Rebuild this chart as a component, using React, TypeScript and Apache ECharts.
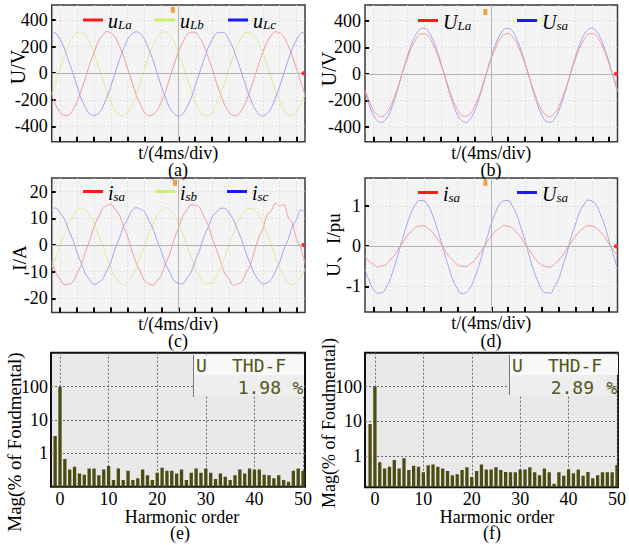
import React, { useEffect, useRef } from 'react';
import * as echarts from 'echarts';

const FONT = "'Liberation Serif', 'Times New Roman', 'Noto Serif CJK SC', 'Noto Sans CJK SC', serif";
const MONO = "'DejaVu Sans Mono', 'Liberation Mono', monospace";

// time samples (ms), 4 ms/div, 15 div
const T = [0,1,2,3,4,5,6,7,8,9,10,11,12,13,14,15,16,17,18,19,20,21,22,23,24,25,26,27,28,29,30,31,32,33,34,35,36,37,38,39,40,41,42,43,44,45,46,47,48,49,50,51,52,53,54,55,56,57,58,59,60];
const T_TICKS = [2,6,10,14,18,22,26,30,34,38,42,46,50,54,58];

// (a) load voltages (V)
const uLa = [
 -158,-242,-296,-318,-317,-276,-218,-128,-37,68,153,235,283,312,303,272,206,130,30,-64,
 -163,-236,-297,-322,-312,-281,-212,-134,-31,62,158,229,288,308,307,268,212,124,36,-70,
 -159,-241,-291,-319,-316,-277,-217,-129,-35,66,155,234,284,311,304,271,208,128,31,-66,
 -160];
const uLb = [
 -157,-70,36,124,212,268,307,309,287,229,159,62,-31,-134,-212,-282,-313,-322,-291,-242,
 -164,-64,30,130,206,273,303,312,283,235,153,68,-37,-128,-218,-276,-317,-319,-297,-236,
 -159,-68,35,125,211,269,306,308,286,231,157,64,-32,-133,-213,-281,-314,-323,-292,-240,
 -162];
const uLc = [
 308,300,250,186,93,3,-97,-192,-258,-309,-318,-307,-262,-186,-101,-2,98,180,255,295,
 311,296,254,181,99,-3,-102,-187,-263,-304,-323,-310,-257,-191,-96,2,94,185,250,300,
 306,301,251,185,95,1,-98,-190,-259,-307,-321,-305,-261,-188,-98,-1,97,182,253,298,
 309];

// (b) ULa vs Usa (V)
const ULaB = [
 -121,-202,-275,-309,-324,-297,-251,-170,-83,22,109,197,254,297,301,287,232,166,73,-16,
 -115,-208,-269,-315,-318,-303,-245,-176,-77,16,115,191,260,293,306,281,238,160,79,-22,
 -120,-203,-274,-310,-323,-298,-250,-171,-82,21,110,196,255,298,302,286,233,165,74,-17,
 -119];
const UsaB = [
 -134,-233,-308,-354,-364,-339,-281,-196,-91,22,127,220,291,334,344,321,266,185,86,-23,
 -135,-232,-309,-353,-365,-338,-282,-195,-92,23,126,221,290,335,343,322,265,186,85,-22,
 -134,-234,-307,-355,-363,-340,-280,-197,-90,21,128,219,292,333,345,320,267,184,87,-24,
 -133];

// (c) source currents (A)
const isaC = [
 -6.1,-10.6,-12.8,-14.9,-14.7,-13.9,-10.6,-7.5,-2.5,1.6,6.8,10.1,13.6,14.7,15.3,13.5,11.4,7.0,3.1,-2.2,
 -6.7,-10.0,-13.4,-14.5,-15.1,-13.3,-11.2,-6.9,-3.1,2.2,6.2,10.7,13.0,15.1,14.9,14.1,10.8,7.6,2.5,-1.6,
 -6.2,-10.8,-12.7,-15.2,-14.6,-13.9,-10.5,-7.6,-2.4,2.6,6.0,11.2,12.8,15.8,14.6,15.2,10.4,8.1,2.1,-1.2,
 -6.9];
const isbC = [
 -8.3,-4.8,0.3,4.0,8.5,10.9,13.4,13.7,13.4,10.9,8.5,4.0,0.3,-4.8,-8.3,-12.2,-13.8,-14.9,-13.7,-12.1,
 -8.9,-4.2,-0.3,4.6,7.9,11.5,13.0,14.1,13.0,11.5,7.9,4.6,-0.3,-4.2,-8.9,-11.6,-14.2,-14.5,-14.3,-11.7,
 -8.4,-4.7,0.2,4.1,8.4,11.0,13.3,13.8,13.3,11.1,8.3,4.2,0.1,-4.6,-8.5,-12.0,-14.1,-14.8,-13.9,-12.0,
 -8.7];
const iscC = [
 13.5,13.9,11.9,9.8,5.6,2.0,-2.9,-6.8,-10.9,-13.0,-14.8,-14.1,-13.0,-9.7,-6.5,-1.5,2.3,7.0,9.8,12.9,
 14.0,13.4,12.5,9.2,6.2,1.4,-2.5,-7.3,-10.3,-13.5,-14.3,-14.6,-12.5,-10.3,-5.9,-2.1,2.9,6.4,10.4,12.3,
 13.7,13.8,12.0,9.7,5.8,1.9,-2.8,-6.9,-10.8,-13.1,-14.7,-14.2,-12.9,-9.8,-6.4,-1.6,2.0,6.9,9.6,13.1,
 12.6];

// (d) per-unit current and voltage
const isaD = [
 -0.24,-0.38,-0.45,-0.52,-0.49,-0.46,-0.34,-0.23,-0.05,0.09,0.26,0.36,0.47,0.50,0.51,0.44,0.36,0.21,0.07,-0.11,
 -0.26,-0.36,-0.47,-0.50,-0.51,-0.44,-0.36,-0.21,-0.07,0.11,0.24,0.38,0.45,0.52,0.49,0.46,0.34,0.23,0.05,-0.09,
 -0.25,-0.38,-0.46,-0.51,-0.52,-0.45,-0.35,-0.22,-0.06,0.10,0.25,0.37,0.46,0.51,0.50,0.45,0.35,0.22,0.06,-0.10,
 -0.24];
const UsaD = [
 -0.57,-0.86,-1.07,-1.17,-1.16,-1.03,-0.81,-0.50,-0.15,0.22,0.55,0.84,1.04,1.14,1.13,1.01,0.79,0.49,0.14,-0.22,
 -0.56,-0.87,-1.06,-1.18,-1.15,-1.04,-0.80,-0.51,-0.14,0.21,0.56,0.83,1.05,1.13,1.14,1.00,0.80,0.48,0.15,-0.23,
 -0.58,-0.85,-1.08,-1.16,-1.17,-1.02,-0.82,-0.49,-0.16,0.23,0.54,0.85,1.03,1.15,1.12,1.02,0.78,0.50,0.13,-0.21,
 -0.57];

// (e),(f) harmonic spectra, % of fundamental
const HARM = [-1,0,1,2,3,4,5,6,7,8,9,10,11,12,13,14,15,16,17,18,19,20,21,22,23,24,25,26,27,28,29,30,31,32,33,34,35,36,37,38,39,40,41,42,43,44,45,46,47,48,49,50];
const SPEC_E = [3.3,100,
 0.68,0.33,0.40,0.25,0.23,0.35,0.35,0.22,0.33,0.42,
 0.16,0.35,0.16,0.30,0.16,0.18,0.33,0.22,0.16,0.26,
 0.37,0.30,0.30,0.25,0.33,0.16,0.26,0.35,0.26,0.35,
 0.26,0.17,0.25,0.20,0.16,0.22,0.33,0.25,0.35,0.32,
 0.33,0.23,0.22,0.18,0.22,0.16,0.14,0.30,0.35,0.30];
const SPEC_F = [8.4,100,
 0.66,0.44,0.49,0.77,0.44,0.86,0.40,0.53,0.49,0.34,
 0.54,0.57,0.49,0.44,0.37,0.28,0.30,0.40,0.48,0.25,
 0.37,0.57,0.41,0.41,0.48,0.40,0.35,0.34,0.34,0.41,
 0.41,0.48,0.34,0.28,0.44,0.34,0.16,0.34,0.27,0.41,
 0.32,0.41,0.27,0.35,0.23,0.28,0.34,0.34,0.34,0.55];
const HARM_LABELS = [0,10,20,30,40,50];
const LOG_LABELS = [1,10,100];
const THD_E = '1.98';
const THD_F = '2.89';

const LEG: Record<string, string> = {
  a_uLa: '{m|u}{s|La}', a_uLb: '{m|u}{s|Lb}', a_uLc: '{m|u}{s|Lc}',
  b_ULa: '{m|U}{s|La}', b_Usa: '{m|U}{s|sa}',
  c_isa: '{m|i}{s|sa}', c_isb: '{m|i}{s|sb}', c_isc: '{m|i}{s|sc}',
  d_isa: '{m|i}{s|sa}', d_Usa: '{m|U}{s|sa}',
};

const RED = '#ff1a1a', GREEN = '#c8f26c', BLUE = '#1a1aff';
const RED_L = '#f29a9a', GREEN_L = '#d8ee9c', BLUE_L = '#a2a2f2';

function buildOption() {
  const grids = [
    { left: 51.7, top: 5, width: 253.3, height: 136.7 },
    { left: 365, top: 5, width: 252.5, height: 136.7 },
    { left: 51.7, top: 178, width: 253.3, height: 134.5 },
    { left: 365, top: 178, width: 252.5, height: 134 },
    { left: 51, top: 352.7, width: 254, height: 134 },
    { left: 365, top: 352.7, width: 254.3, height: 134.6 },
  ].map((g, i) => ({
    ...g, show: true, containLabel: false,
    backgroundColor: i < 4 ? '#f4f4f4' : '#e9e9e9',
    borderColor: i < 4 ? '#3a3a3a' : '#111', borderWidth: i < 4 ? 1.5 : 2,
  }));

  const labelStyle = { fontSize: 18, fontFamily: FONT, color: '#000' };

  const waveX = (gi: number) => ({
    type: 'value', gridIndex: gi, min: 0, max: 60, position: 'bottom',
    axisLine: { show: false, onZero: false },
    axisTick: { show: true, inside: true, length: 5, customValues: T_TICKS, lineStyle: { color: '#000', width: 2 } },
    axisLabel: { show: false },
    splitLine: { show: true, lineStyle: { color: '#cfcfcf', type: [1, 3], width: 1 } },
    name: 't/(4ms/div)', nameLocation: 'middle', nameGap: 3,
    nameTextStyle: { ...labelStyle, verticalAlign: 'top', lineHeight: 16 },
  });
  const waveY = (gi: number, min: number, max: number, ticks: number[]) => ({
    type: 'value', gridIndex: gi, min, max, position: 'left',
    axisLine: { show: false, onZero: false },
    axisTick: { show: true, inside: true, length: 4, customValues: ticks, lineStyle: { color: '#000', width: 2 } },
    axisLabel: { ...labelStyle, customValues: ticks, margin: 4 },
    splitLine: { show: true, lineStyle: { color: '#d2d2d2', type: [1, 3], width: 1 } },
  });
  const specX = (gi: number, min: number, max: number) => ({
    type: 'value', gridIndex: gi, min, max, position: 'bottom',
    axisLine: { show: false, onZero: false },
    axisTick: { show: false, customValues: HARM_LABELS },
    axisLabel: { ...labelStyle, customValues: HARM_LABELS, margin: 4, lineHeight: 16 },
    splitLine: { show: true, lineStyle: { color: '#6a6a6a', type: [2, 2], width: 1 } },
  });
  const specY = (gi: number, min: number, max: number) => ({
    type: 'log', logBase: 10, gridIndex: gi, min, max, position: 'left',
    axisLine: { show: false, onZero: false },
    axisTick: { show: false, customValues: LOG_LABELS },
    axisLabel: { ...labelStyle, customValues: LOG_LABELS, margin: 3 },
    splitLine: { show: true, lineStyle: { color: '#6a6a6a', type: [2, 2], width: 1 } },
  });

  const xAxis = [waveX(0), waveX(1), waveX(2), waveX(3), specX(4, -1.85, 50.4), specX(5, -2.05, 50.2)];
  const yAxis = [
    waveY(0, -515, 512, [-400, -200, 0, 200, 400]),
    waveY(1, -510, 518, [-400, -200, 0, 200, 400]),
    waveY(2, -25.3, 25.1, [-20, -10, 0, 10, 20]),
    waveY(3, -1.64, 1.7, [-1, 0, 1]),
    specY(4, 0.1, 1050),
    specY(5, 0.126, 955),
  ];

  const pair = (ys: number[]) => T.map((t, i) => [t, ys[i]]);
  const line = (name: string, gi: number, ys: number[], color: string, light: string, smooth: number | boolean, extra: any = {}) => ({
    type: 'line', name, xAxisIndex: gi, yAxisIndex: gi, data: pair(ys),
    showSymbol: false, smooth, color, itemStyle: { color },
    lineStyle: { color: light, width: 1 }, z: 3, silent: true, ...extra,
  });
  const decor = (trig: number[], center: number) => ({
    markLine: {
      silent: true, symbol: 'none', label: { show: false },
      lineStyle: { color: '#b4b4b4', type: 'solid', width: 1 },
      data: [{ yAxis: 0 }, { xAxis: center }],
    },
    markPoint: {
      silent: true, label: { show: false },
      data: [
        { coord: trig, symbol: 'rect', symbolSize: [4, 6], itemStyle: { color: '#f0a03c' } },
        { coord: [59.6, 0], symbol: 'circle', symbolSize: 4, itemStyle: { color: '#ff2a2a' } },
      ],
    },
  });

  const barRender = (yMin: number) => (params: any, api: any) => {
    const h = api.value(0), v = api.value(1);
    const l = api.coord([h - 0.34, v]);
    const r = api.coord([h + 0.34, v]);
    const b = api.coord([h, yMin]);
    return {
      type: 'rect',
      shape: { x: l[0], y: l[1], width: r[0] - l[0], height: b[1] - l[1] },
      style: { fill: '#4b4b12' },
    };
  };

  const series: any[] = [
    line('a_uLa', 0, uLa, RED, RED_L, 0.3, decor([28.7, 475], 30)),
    line('a_uLb', 0, uLb, GREEN, GREEN_L, 0.3),
    line('a_uLc', 0, uLc, BLUE, BLUE_L, 0.3),
    line('b_Usa', 1, UsaB, BLUE, BLUE_L, true, decor([28.6, 465], 30)),
    line('b_ULa', 1, ULaB, RED, RED_L, 0.3),
    line('c_isa', 2, isaC, RED, RED_L, 0.3, decor([29.2, 23.3], 30)),
    line('c_isb', 2, isbC, GREEN, GREEN_L, 0.3),
    line('c_isc', 2, iscC, BLUE, BLUE_L, 0.3),
    line('d_Usa', 3, UsaD, BLUE, BLUE_L, true, decor([28.6, 1.58], 30)),
    line('d_isa', 3, isaD, RED, RED_L, 0.3),
    {
      type: 'custom', name: 'specE', xAxisIndex: 4, yAxisIndex: 4, clip: true, silent: true,
      data: HARM.map((h, i) => [h, SPEC_E[i]]), encode: { x: 0, y: 1 }, renderItem: barRender(0.1),
    },
    {
      type: 'custom', name: 'specF', xAxisIndex: 5, yAxisIndex: 5, clip: true, silent: true,
      data: HARM.map((h, i) => [h, SPEC_F[i]]), encode: { x: 0, y: 1 }, renderItem: barRender(0.126),
    },
  ];

  const legText = {
    fontFamily: FONT, fontSize: 20, fontStyle: 'italic', color: '#000',
    rich: {
      m: { fontFamily: FONT, fontSize: 20, fontStyle: 'italic', color: '#000', lineHeight: 22, verticalAlign: 'bottom' },
      s: { fontFamily: FONT, fontSize: 13, fontStyle: 'italic', color: '#000', lineHeight: 13, padding: [9, 0, 0, 0], verticalAlign: 'bottom' },
    },
  };
  const leg = (name: string, left: number, top: number) => ({
    data: [name], left, top, icon: 'rect', itemWidth: 20, itemHeight: 3,
    selectedMode: false, padding: 0, textStyle: legText, formatter: (n: string) => LEG[n],
  });
  const legend = [
    leg('a_uLa', 83, 9), leg('a_uLb', 155, 9), leg('a_uLc', 228, 9),
    leg('b_ULa', 418, 9.5), leg('b_Usa', 517, 9.5),
    leg('c_isa', 83, 180.5), leg('c_isb', 155, 180.5), leg('c_isc', 227, 180.5),
    leg('d_isa', 418, 181.5), leg('d_Usa', 517, 181.5),
  ];

  const txt = (text: string, x: number, y: number, size = 18, rot = 0, extra: any = {}) => ({
    type: 'text', x, y, rotation: rot, z: 50, silent: true,
    style: { text, fontSize: size, fontFamily: FONT, fill: '#000', align: 'center', verticalAlign: 'middle', lineHeight: 16, ...extra },
  });
  const R = Math.PI / 2;
  const lcd = (text: string, x: number, y: number, align: string) => ({
    type: 'text', x, y, z: 60, silent: true,
    style: { text, fontSize: 18, fontFamily: MONO, fill: '#55551a', align, verticalAlign: 'middle' },
  });
  const graphic = [
    txt('U/V', 18, 67, 20, R), txt('U/V', 329, 69, 20, R),
    txt('I/A', 19, 258, 19, R), txt('U、I/pu', 333, 245, 19, R),
    txt('Mag(% of Foudmental)', 14, 442, 19, R), txt('Mag(% of Foudmental)', 329, 423, 18, R),
    txt('(a)', 178, 170), txt('(b)', 491, 170), txt('(c)', 178, 340.5), txt('(d)', 491, 340.5),
    txt('Harmonic order', 182, 516.5), txt('Harmonic order', 497, 516.5),
    txt('(e)', 180, 533), txt('(f)', 492, 533),
    // THD read-out boxes
    { type: 'rect', z: 55, silent: true, shape: { x: 193, y: 355, width: 111, height: 20 }, style: { fill: '#f8f8f8' } },
    { type: 'rect', z: 55, silent: true, shape: { x: 193, y: 375, width: 111, height: 21 }, style: { fill: '#eeeeee' } },
    { type: 'line', z: 56, silent: true, shape: { x1: 193.5, y1: 355, x2: 193.5, y2: 397 }, style: { stroke: '#777', lineWidth: 1 } },
    lcd('U', 196, 365, 'left'), lcd('THD-F', 232, 365, 'left'), lcd(THD_E, 281, 387, 'right'), lcd('%', 298, 387, 'center'),
    { type: 'rect', z: 55, silent: true, shape: { x: 509, y: 355, width: 109, height: 20 }, style: { fill: '#f8f8f8' } },
    { type: 'rect', z: 55, silent: true, shape: { x: 509, y: 375, width: 97, height: 20 }, style: { fill: '#eeeeee' } },
    { type: 'line', z: 56, silent: true, shape: { x1: 509.5, y1: 355, x2: 509.5, y2: 395 }, style: { stroke: '#777', lineWidth: 1 } },
    lcd('U', 512, 365, 'left'), lcd('THD-F', 548, 365, 'left'), lcd(THD_F, 594, 387, 'right'), lcd('%', 612, 387, 'center'),
  ];

  return {
    animation: false,
    textStyle: { fontFamily: FONT },
    grid: grids, xAxis, yAxis, series, legend, graphic,
  };
}

export default function App() {
  const ref = useRef<HTMLDivElement>(null);
  useEffect(() => {
    const chart = echarts.init(ref.current!, null, { renderer: 'svg' });
    chart.setOption(buildOption() as any);
    return () => chart.dispose();
  }, []);
  return <div ref={ref} style={{ position: 'fixed', left: 0, top: 0, width: 629, height: 545, background: '#fff' }} />;
}
